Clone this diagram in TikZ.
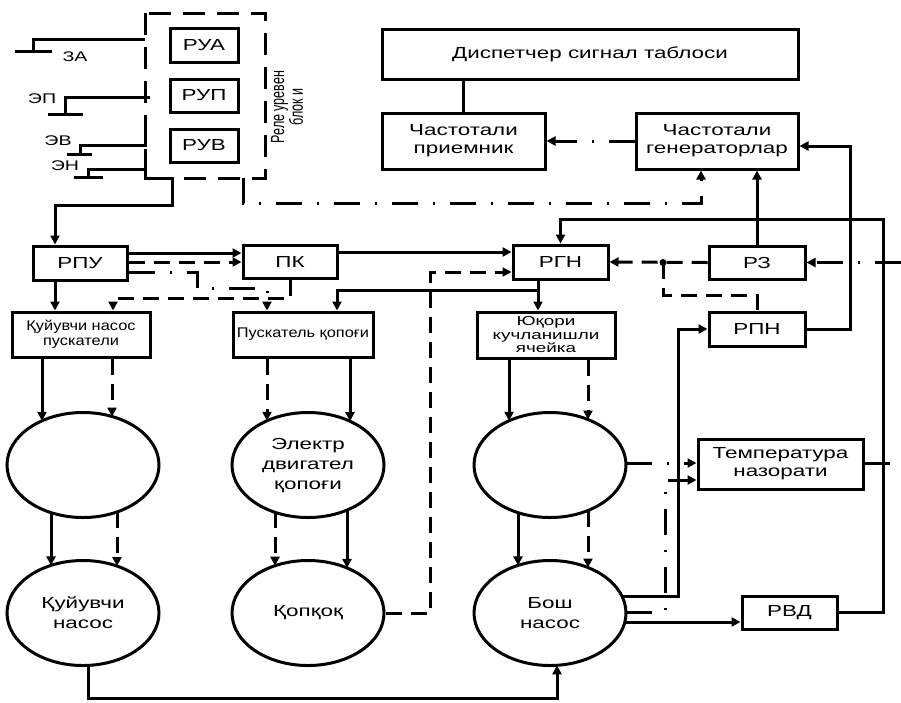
\documentclass[tikz,border=0pt]{standalone}
\usepackage{fontspec}
\setmainfont{Liberation Sans}
\newfontfamily\fa{Liberation Sans}[FakeStretch=1.4]
\newfontfamily\fb{Liberation Sans}[FakeStretch=1.17]
\newfontfamily\fc{Liberation Sans}[FakeStretch=1.45]
\newfontfamily\fr{Liberation Sans}[FakeStretch=0.66]
\usetikzlibrary{arrows.meta,shapes.geometric,calc}
\begin{document}
\begin{tikzpicture}[x=1pt,y=-1pt, line width=3pt,
 box/.style={draw, rectangle, inner sep=0pt, align=center, font=\fa\fontsize{16}{18}\selectfont},
 oval/.style={draw, ellipse, minimum width=152pt, minimum height=105pt, inner sep=0pt, align=center, font=\fa\fontsize{16}{20}\selectfont},
 arr/.style={-{Triangle[length=9pt,width=9pt]}},
 dsh/.style={dash pattern=on 16pt off 9pt},
 dd/.style={dash pattern=on 26pt off 15pt on 2pt off 15pt},
 lbl/.style={inner sep=0pt, font=\fa\fontsize{14}{16}\selectfont},
]
\useasboundingbox (0,0) rectangle (901,702);

% relay block
\draw[dash pattern=on 22pt off 12pt] (145,13) rectangle (265,178);
\node[box, minimum width=68pt, minimum height=34pt] (rua) at (204,45) {РУА};
\node[box, minimum width=68pt, minimum height=33pt] (rup) at (204,95.5) {РУП};
\node[box, minimum width=68pt, minimum height=33pt] (ruv) at (204,145.5) {РУВ};
\node[rotate=90, inner sep=0pt, align=center, font=\fr\fontsize{19}{17}\selectfont] (rlabel) at (287,107) {Реле уревен\\блок и};

% switches
\node[lbl] (za) at (75,57) {ЗА};
\node[lbl] (ep) at (42,99) {ЭП};
\node[lbl] (ev) at (58,141) {ЭВ};
\node[lbl] (en) at (65,166) {ЭН};
\draw (15,51) -- (52,51) (33,51) -- (33,39) -- (145,39);
\draw (48,114) -- (83,114) (65,114) -- (65,97) -- (150,97);
\draw (67,154) -- (92,154) (80,154) -- (80,145) -- (145,145) -- (145,130);
\draw (74,177) -- (103,177) (88,177) -- (88,169) -- (145,169);

% top right
\node[box, minimum width=416pt, minimum height=50pt] (disp) at (590,54) {Диспетчер сигнал таблоси};
\node[box, minimum width=163pt, minimum height=56pt] (recv) at (463.5,141) {Частотали\\приемник};
\node[box, minimum width=162pt, minimum height=56pt] (gen) at (717,141) {Частотали\\генераторлар};

% middle row
\node[box, minimum width=94pt, minimum height=34pt] (rpu) at (80,263) {РПУ};
\node[box, minimum width=94pt, minimum height=33pt] (pk) at (290,261.5) {ПК};
\node[box, minimum width=95pt, minimum height=34pt] (rgn) at (560.5,262) {РГН};
\node[box, minimum width=96pt, minimum height=33pt] (rz) at (757,262.5) {РЗ};
\node[box, minimum width=96pt, minimum height=34pt] (rpn) at (757,329) {РПН};

\node[box, minimum width=138pt, minimum height=45pt, font=\fb\fontsize{14}{15}\selectfont] (b1) at (81,334.5) {Қуйувчи насос\\пускатели};
\node[box, minimum width=140pt, minimum height=45pt, font=\fb\fontsize{14}{15}\selectfont] (b2) at (303,334.5) {Пускатель қопоғи};
\node[box, minimum width=138pt, minimum height=46pt, font=\fc\fontsize{13}{13.5}\selectfont] (b3) at (546,335) {Юқори\\кучланишли\\ячейка};

\node[box, minimum width=165pt, minimum height=50pt] (temp) at (780.5,464) {Температура\\назорати};
\node[box, minimum width=95pt, minimum height=33pt] (rvd) at (789.5,612.5) {РВД};

% ellipses
\node[oval] (e1) at (83,465) {};
\node[oval] (e2) at (83,613) {Қуйувчи\\насос};
\node[oval] (e3) at (308,465) {Электр\\двигател\\қопоғи};
\node[oval] (e4) at (308,613) {Қопқоқ};
\node[oval] (e5) at (550,465) {};
\node[oval] (e6) at (550,613) {Бош\\насос};

% border points on ellipses
\coordinate (e1a) at (42,420.8);  \coordinate (e1b) at (112,416.5);
\coordinate (e1c) at (51,512.6);  \coordinate (e2c) at (51,565.4);
\coordinate (e1d) at (117,511.9); \coordinate (e2d) at (117,566.1);
\coordinate (e3a) at (267,420.8); \coordinate (e3b) at (350,421.2);
\coordinate (e3c) at (275,512.3); \coordinate (e4c) at (275,565.7);
\coordinate (e3d) at (347,510.1); \coordinate (e4d) at (347,567.9);
\coordinate (e5a) at (509,420.8); \coordinate (e5b) at (588,419.5);
\coordinate (e5c) at (518,512.6); \coordinate (e6c) at (518,565.4);
\coordinate (e5d) at (588,510.5); \coordinate (e6d) at (588,567.5);
\coordinate (e2b) at (88,665.4);  \coordinate (e6bot) at (557,665.3);
\coordinate (e6r1) at (622,596); \coordinate (e6r2) at (626,612); \coordinate (e6r3) at (625,622);
\coordinate (e5r) at (626,463);

% connectors top
\draw (recv.north |- disp.south) -- (recv.north);
\draw[dd,arr] (gen.west) -- (recv.east);
\coordinate (rl) at (243,178);
\draw[dd,arr] (rl) -- (243,203) -| ($(gen.south)+(-16,0)$);
\draw[arr] (145,160) -- (145,178) -- (172,178) -- (172,205) -| ($(rpu.north)+(-25,0)$);

% middle connectors
\draw[arr] (rpu.east |- 0,253) -- (pk.west |- 0,253);
\draw[dsh,arr] (rpu.east |- 0,262) -- (pk.west |- 0,262);
\draw[dd,arr] (rpu.east |- 0,272) -- (197,272) -- (197,288) -- (267,288) -- (b2.north -| 267,0);
\draw[arr] (rpu.south -| 55,0) -- (b1.north -| 55,0);
\draw[dsh,arr] (pk.south) -- (290,298) -- (113,298) -- (b1.north -| 113,0);
\draw[arr] (pk.east |- 0,252) -- (rgn.west |- 0,252);
\draw[arr] (rgn.south -| 538,0) -- (b3.north -| 538,0);
\draw[arr] (538,290) -- (337,290) -- (b2.north -| 337,0);
\draw[dsh,arr] (e4.east) -- (430,613) -- (430,272) -- (rgn.west |- 0,272);

\draw[dsh,arr] (rz.west) -- (rgn.east);
\coordinate (jn) at (663,262.5);
\fill (jn) circle (3.5pt);
\draw[dsh] (jn) -- (663,295) -| (rpn.north);
\draw[arr] (rz.north) -- (gen.south -| rz.north);
\coordinate (rr) at (901,262.5);
\draw[dd,arr] (rr) -- (rz.east);
\draw[arr] (rpn.east) -| (850,146) -- (gen.east |- 0,146);
\draw[arr] (rvd.east) -| (883,219) -| (rgn.north);

% boxes to ellipses
\draw[arr] (b1.south -| e1a) -- (e1a);
\draw[dsh,arr] (b1.south -| e1b) -- (e1b);
\draw[arr] (e1c) -- (e2c);
\draw[dsh,arr] (e1d) -- (e2d);
\draw[dsh,arr] (b2.south -| e3a) -- (e3a);
\draw[arr] (b2.south -| e3b) -- (e3b);
\draw[dsh,arr] (e3c) -- (e4c);
\draw[arr] (e3d) -- (e4d);
\draw[arr] (b3.south -| e5a) -- (e5a);
\draw[dsh,arr] (b3.south -| e5b) -- (e5b);
\draw[arr] (e5c) -- (e6c);
\draw[dsh,arr] (e5d) -- (e6d);

% bottom / right
\draw[arr] (e2b) -- (88,698) -| (e6bot);
\draw[arr] (e6r1) -- (678,596) |- (rpn.west);
\draw[dd,arr] (e6r2) -- (665,612) |- (temp.west |- 0,480);
\draw[arr] (e6r3) -- (rvd.west |- 0,622);
\draw[dd,arr] (e5r) -- (temp.west |- 0,463);
\coordinate (tr) at (890,463);
\draw (temp.east |- 0,463) -- (tr);
\end{tikzpicture}
\end{document}
